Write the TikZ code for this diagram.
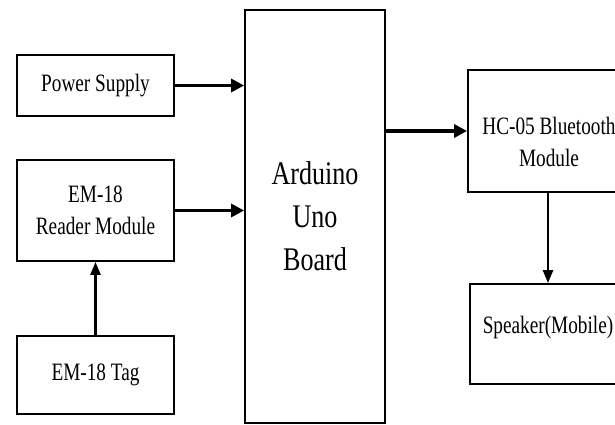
\documentclass[tikz,border=0pt]{standalone}
\usepackage{fontspec}
\usetikzlibrary{arrows.meta}
\newfontfamily\blocfont[FakeStretch=0.77]{Liberation Serif}
\newfontfamily\grandfont[FakeStretch=0.79]{Liberation Serif}

\begin{document}
\begin{tikzpicture}[
            x=1pt, y=-1pt,
            bloc/.style={draw=black, line width=1.8pt, inner sep=0pt, align=center,
                font=\blocfont\fontsize{25}{32}\selectfont},
            texte/.style={inner sep=0pt, align=center,
                font=\blocfont\fontsize{25}{32}\selectfont},
            fleche/.style={line width=3.4pt, -{Triangle[length=13pt, width=13pt]}},
            flechev/.style={line width=2.4pt, -{Triangle[length=13pt, width=10pt]}},
        ]
        \useasboundingbox (0,0) rectangle (615,425);
        \clip (0,0) rectangle (615,425);
        % blocs de gauche
        \node[bloc, minimum width=157pt, minimum height=61pt] (alim) at (95.5,85.5) {Power Supply};
        \node[bloc, minimum width=157pt, minimum height=101pt] (lecteur) at (95.5,210.5) {EM-18\\Reader Module};
        \node[bloc, minimum width=157pt, minimum height=78pt] (tag) at (95.5,375) {EM-18 Tag};
        % carte
        \node[bloc, minimum width=140pt, minimum height=413pt,
            font=\grandfont\fontsize{33}{43}\selectfont] (uno) at (315,216.5) {Arduino\\Uno\\Board};
        % blocs de droite
        \node[bloc, minimum width=162pt, minimum height=122pt] (hc) at (549,131) {};
        \node[texte] (hctexte) at ([yshift=-11pt]hc.center) {HC-05 Bluetooth\\Module};
        \node[bloc, minimum width=156pt, minimum height=100pt] (haut) at (548,334) {};
        \node[texte] (hauttexte) at ([yshift=7pt]haut.center) {Speaker(Mobile)};
        % liaisons
        \draw[fleche] (alim.east) -- (alim.east -| uno.west);
        \draw[fleche] (lecteur.east) -- (lecteur.east -| uno.west);
        \draw[flechev] (tag.north) -- (lecteur.south);
        \draw[fleche] (uno.east |- hc.west) -- (hc.west);
        \draw[flechev] (hc.south -| haut.north) -- (haut.north);
    \end{tikzpicture}
\end{document}
